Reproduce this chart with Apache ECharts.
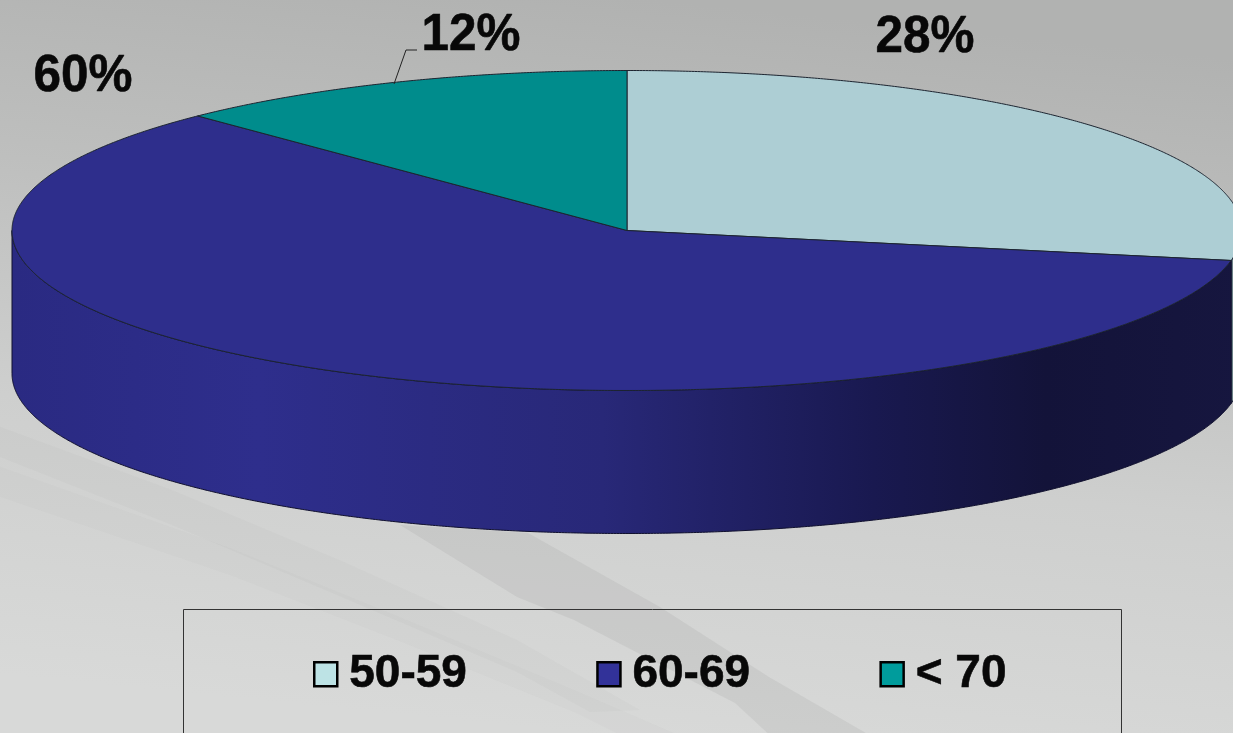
<!DOCTYPE html>
<html>
<head>
<meta charset="utf-8">
<style>html,body{margin:0;padding:0;background:#ccc}#c{width:1233px;height:733px}</style>
<script src="https://cdn.jsdelivr.net/npm/echarts@6/dist/echarts.min.js"></script>
</head>
<body>
<div id="c"></div>
<script>
const categories = ['50-59', '60-69', '< 70'];
const seriesValues = [28, 59.7, 12.3];
const topColors = ['#adced4', '#2e2e8c', '#008c8c'];
const legendColors = ['#bde3e5', '#323299', '#009c9c'];
const sideColors = ['#6c8287', {
  type: 'linear', global: true, x: 12, y: 0, x2: 1242, y2: 0,
  colorStops: [
    { offset: 0, color: '#2a2a82' }, { offset: 0.2, color: '#2e2e8c' },
    { offset: 0.48, color: '#282878' }, { offset: 0.7, color: '#191950' },
    { offset: 0.84, color: '#131339' }, { offset: 1, color: '#16163f' }
  ]
}, '#005a5a'];
const labelPos = [[925, 38], [83, 77], [471, 36]];

const CX = 627, CY = 230.5, RX = 615, RY = 160, DEPTH = 143;
const total = seriesValues.reduce((a, b) => a + b, 0);
const pt = (t, dy) => [CX + RX * Math.sin(t), CY - RY * Math.cos(t) + (dy || 0)];
function arc(a, b, dy) {
  const n = Math.max(2, Math.ceil(Math.abs(b - a) / 0.005)), out = [];
  for (let i = 0; i <= n; i++) out.push(pt(a + (b - a) * i / n, dy));
  return out;
}

function makeRender(idx) {
  return function (params, api) {
    const before = seriesValues.slice(0, idx).reduce((a, b) => a + b, 0);
    const a = before / total * 2 * Math.PI;
    const b = (before + api.value(0)) / total * 2 * Math.PI;
    const children = [];
    const fa = Math.max(a, Math.PI / 2), fb = Math.min(b, 3 * Math.PI / 2);
    if (fb > fa) {
      children.push({
        type: 'polygon',
        shape: { points: arc(fa, fb, 0).concat(arc(fb, fa, DEPTH)) },
        style: { fill: sideColors[idx], stroke: '#10102e', lineWidth: 1 }
      });
    }
    children.push({
      type: 'polygon',
      shape: { points: [[CX, CY]].concat(arc(a, b, 0)) },
      style: { fill: topColors[idx], stroke: '#1c2430', lineWidth: 1 }
    });
    if (idx === 2) {
      children.push({
        type: 'polyline',
        shape: { points: [[394, 84], [406, 50], [417, 50]] },
        style: { fill: 'none', stroke: '#222', lineWidth: 1 }
      });
    }
    children.push({
      type: 'text',
      x: labelPos[idx][0], y: labelPos[idx][1], scaleX: 0.95,
      style: {
        text: Math.round(api.value(0)) + '%', x: 0, y: 0,
        align: 'center', verticalAlign: 'middle', fill: '#080808',
        stroke: '#080808', lineWidth: 0.6,
        font: 'bold 52px "Liberation Sans", Arial, sans-serif'
      }
    });
    return { type: 'group', children };
  };
}

const band = (points, op) => ({
  type: 'polygon', z: 0, silent: true,
  shape: { points },
  style: { fill: '#9a9b9a', opacity: op }
});

const chart = echarts.init(document.getElementById('c'), null, { renderer: 'canvas', width: 1233, height: 733 });
chart.setOption({
  animation: false,
  backgroundColor: {
    type: 'linear', x: 0.53, y: 0, x2: 0.47, y2: 1,
    colorStops: [
      { offset: 0, color: '#b1b2b1' }, { offset: 0.3, color: '#bebfbe' },
      { offset: 0.62, color: '#cecfce' }, { offset: 1, color: '#d8d9d8' }
    ]
  },
  legend: {
    left: 313, top: 651, padding: 0,
    icon: 'rect', itemWidth: 23, itemHeight: 24, itemGap: 129,
    selectedMode: false,
    textStyle: {
      fontFamily: '"Liberation Sans", Arial, sans-serif', fontWeight: 'bold',
      fontSize: 46, color: '#080808', padding: [0, 0, 0, 7],
      textBorderColor: '#080808', textBorderWidth: 0.6
    },
    data: categories.map((name, i) => ({
      name,
      itemStyle: { color: legendColors[i], borderColor: '#000', borderWidth: 2.5 }
    }))
  },
  graphic: [
    band([[400, 525], [528, 533], [660, 607], [769, 677], [878, 740], [775, 740], [735, 703], [574, 620], [517, 597]], 0.18),
    band([[-5, 425], [172, 490], [344, 562], [517, 640], [640, 710], [590, 712], [517, 672], [344, 598], [172, 525], [-5, 455]], 0.06),
    band([[-5, 465], [230, 548], [402, 618], [574, 690], [690, 740], [630, 740], [574, 712], [402, 642], [230, 575], [-5, 495]], 0.05),
    {
      type: 'rect', z: 1, silent: true,
      shape: { x: 183.5, y: 609.5, width: 938, height: 220 },
      style: { fill: 'none', stroke: '#333', lineWidth: 1 }
    }
  ],
  series: categories.map((name, i) => ({
    type: 'custom',
    name,
    coordinateSystem: 'none',
    silent: true,
    clip: false,
    itemStyle: { color: legendColors[i] },
    data: [[seriesValues[i]]],
    renderItem: makeRender(i)
  }))
});
</script>
</body>
</html>
